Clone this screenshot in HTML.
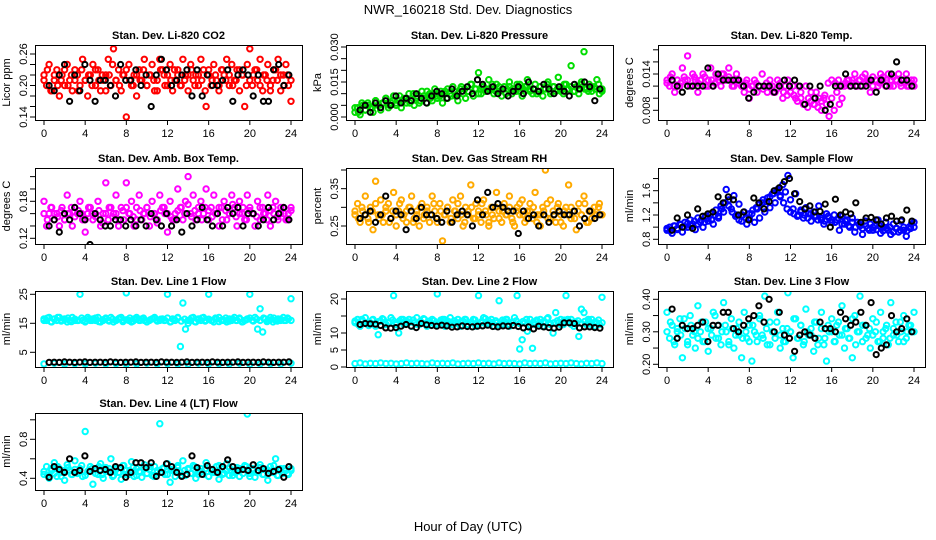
<!DOCTYPE html>
<html><head><meta charset="utf-8"><style>
body{margin:0;background:#fff;}
svg{display:block;font-family:"Liberation Sans",sans-serif;}
</style></head><body>
<svg id="c" width="936" height="540" viewBox="0 0 936 540">
<text x="468" y="14" font-size="13" text-anchor="middle">NWR_160218  Std. Dev. Diagnostics</text>
<text x="468" y="531" font-size="13" text-anchor="middle">Hour of Day (UTC)</text>
</svg>
<script>
const hourTicks=[0,4,8,12,16,20,24];
const p1Color=[0.22,0.20,0.24,0.19,0.21,0.23,0.18,0.22,0.20,0.24,0.21,0.19,0.23,0.22,0.20,0.25,0.21,0.18,0.22,0.24,0.20,0.23,0.19,0.21,0.22,0.25,0.20,0.27,0.21,0.23,0.19,0.22,0.14,0.24,0.20,0.22,0.18,0.23,0.21,0.25,0.20,0.22,0.24,0.19,0.21,0.25,0.23,0.20,0.22,0.24,0.19,0.21,0.23,0.20,0.25,0.22,0.19,0.24,0.21,0.22,0.20,0.25,0.23,0.16,0.22,0.20,0.24,0.21,0.19,0.23,0.22,0.25,0.20,0.24,0.21,0.23,0.19,0.22,0.16,0.24,0.27,0.20,0.23,0.21,0.25,0.19,0.22,0.24,0.20,0.21,0.23,0.25,0.19,0.22,0.24,0.20,0.17];
const p1Color2=[0.21,0.23,0.19,0.22,0.20,0.21,0.23,0.20,0.22,0.21,0.19,0.23,0.21,0.22,0.20,0.23,0.21,0.22,0.19,0.22,0.24,0.21,0.20,0.22,0.23,0.21,0.20,0.22,0.21,0.23,0.20,0.22,0.21,0.19,0.23,0.22,0.20,0.21,0.23,0.22,0.20,0.21,0.22,0.23,0.20,0.22,0.21,0.19,0.23,0.21,0.22,0.20,0.23,0.21,0.22,0.20,0.21,0.23,0.22,0.20,0.21,0.22,0.23,0.20,0.22,0.21,0.19,0.23,0.21,0.22,0.20,0.22,0.21];
const p1Black=[0.20,0.19,0.22,0.24,0.17,0.22,0.19,0.24,0.21,0.17,0.21,0.21,0.20,0.18,0.24,0.21,0.21,0.23,0.20,0.22,0.16,0.22,0.25,0.23,0.20,0.21,0.22,0.23,0.18,0.23,0.18,0.22,0.20,0.20,0.21,0.23,0.17,0.22,0.23,0.22,0.18,0.22,0.17,0.17,0.23,0.24,0.20,0.22];
const p2Color=[0.002,0.004,0.001,0.005,0.003,0.006,0.004,0.002,0.007,0.005,0.003,0.006,0.008,0.004,0.006,0.009,0.005,0.007,0.004,0.008,0.006,0.010,0.007,0.005,0.009,0.006,0.011,0.008,0.006,0.010,0.007,0.012,0.008,0.009,0.006,0.011,0.008,0.010,0.013,0.009,0.007,0.012,0.010,0.008,0.011,0.014,0.009,0.012,0.019,0.010,0.013,0.011,0.016,0.012,0.010,0.014,0.011,0.009,0.013,0.012,0.015,0.010,0.012,0.014,0.011,0.009,0.013,0.016,0.012,0.010,0.014,0.011,0.013,0.009,0.012,0.015,0.010,0.013,0.011,0.017,0.012,0.010,0.014,0.012,0.022,0.011,0.013,0.010,0.015,0.028,0.012,0.014,0.011,0.013,0.016,0.010,0.012];
const p2Color2=[0.004,0.002,0.006,0.003,0.005,0.004,0.007,0.005,0.006,0.008,0.005,0.007,0.006,0.009,0.007,0.008,0.006,0.010,0.008,0.007,0.009,0.011,0.008,0.010,0.009,0.011,0.010,0.012,0.009,0.011,0.010,0.013,0.012,0.011,0.014,0.012,0.010,0.013,0.011,0.012,0.014,0.011,0.013,0.012,0.010,0.013,0.012,0.011,0.014,0.012,0.013,0.011,0.012,0.010,0.013,0.012,0.014,0.011,0.013,0.012,0.011,0.014,0.012,0.013,0.011,0.012,0.014,0.012,0.011,0.013,0.012,0.014,0.011];
const p2Black=[0.003,0.005,0.002,0.006,0.004,0.007,0.005,0.009,0.006,0.008,0.007,0.010,0.008,0.006,0.009,0.011,0.010,0.008,0.012,0.009,0.011,0.013,0.010,0.016,0.014,0.011,0.013,0.010,0.012,0.009,0.011,0.013,0.010,0.015,0.012,0.011,0.014,0.012,0.010,0.013,0.011,0.009,0.014,0.012,0.015,0.013,0.007,0.012];
const p3Color=[0.013,0.012,0.014,0.011,0.013,0.012,0.015,0.013,0.017,0.012,0.014,0.013,0.011,0.013,0.014,0.012,0.013,0.015,0.012,0.014,0.013,0.012,0.014,0.013,0.015,0.013,0.012,0.014,0.013,0.012,0.011,0.013,0.010,0.012,0.013,0.011,0.012,0.014,0.012,0.011,0.013,0.012,0.011,0.013,0.012,0.010,0.012,0.013,0.011,0.012,0.010,0.012,0.011,0.009,0.012,0.010,0.011,0.009,0.011,0.010,0.008,0.010,0.009,0.007,0.010,0.008,0.011,0.009,0.010,0.012,0.013,0.012,0.013,0.014,0.012,0.013,0.012,0.014,0.013,0.011,0.012,0.013,0.012,0.014,0.013,0.012,0.014,0.013,0.012,0.013,0.014,0.012,0.013,0.014,0.012,0.013,0.012];
const p3Color2=[0.0125,0.0135,0.012,0.013,0.0125,0.0135,0.013,0.012,0.0135,0.0125,0.013,0.0135,0.012,0.013,0.0125,0.0135,0.014,0.013,0.0135,0.012,0.013,0.0125,0.012,0.0125,0.0115,0.012,0.0125,0.012,0.0115,0.0125,0.012,0.011,0.0115,0.0125,0.011,0.0105,0.011,0.0105,0.0095,0.010,0.009,0.0085,0.0095,0.009,0.0085,0.0095,0.0105,0.0125,0.013,0.0125,0.013,0.012,0.0125,0.013,0.0125,0.012,0.013,0.0135,0.0125,0.013,0.0135,0.013,0.0125,0.0135,0.013,0.012,0.0135,0.013,0.0125,0.013,0.012,0.0125,0.013];
const p3Black=[0.013,0.012,0.011,0.012,0.012,0.012,0.012,0.015,0.012,0.014,0.013,0.013,0.013,0.013,0.012,0.010,0.011,0.012,0.012,0.012,0.011,0.012,0.013,0.012,0.013,0.012,0.009,0.012,0.010,0.012,0.008,0.009,0.012,0.012,0.014,0.012,0.012,0.012,0.012,0.013,0.011,0.013,0.012,0.014,0.016,0.013,0.013,0.012];
const p4Color=[0.18,0.14,0.16,0.17,0.15,0.16,0.14,0.17,0.15,0.19,0.16,0.14,0.17,0.16,0.18,0.15,0.13,0.16,0.17,0.15,0.16,0.18,0.14,0.16,0.21,0.15,0.17,0.16,0.19,0.14,0.17,0.15,0.21,0.16,0.18,0.14,0.17,0.19,0.15,0.16,0.17,0.14,0.18,0.16,0.15,0.19,0.17,0.16,0.13,0.18,0.15,0.16,0.20,0.17,0.15,0.18,0.22,0.16,0.19,0.15,0.17,0.18,0.16,0.20,0.15,0.17,0.19,0.16,0.14,0.17,0.18,0.15,0.16,0.19,0.17,0.14,0.18,0.16,0.15,0.19,0.17,0.16,0.14,0.18,0.15,0.17,0.16,0.19,0.14,0.17,0.18,0.15,0.16,0.17,0.15,0.16,0.17];
const p4Color2=[0.16,0.15,0.17,0.16,0.155,0.165,0.15,0.16,0.17,0.155,0.165,0.16,0.15,0.17,0.16,0.155,0.165,0.145,0.16,0.17,0.155,0.16,0.15,0.165,0.17,0.16,0.155,0.15,0.165,0.16,0.17,0.155,0.16,0.145,0.165,0.17,0.16,0.155,0.15,0.165,0.17,0.16,0.175,0.155,0.165,0.16,0.15,0.17,0.165,0.155,0.16,0.17,0.15,0.165,0.16,0.175,0.155,0.16,0.17,0.15,0.165,0.16,0.155,0.17,0.16,0.15,0.165,0.16,0.155,0.17,0.16,0.15,0.165];
const p4Black=[0.14,0.15,0.13,0.16,0.15,0.17,0.16,0.15,0.11,0.16,0.15,0.14,0.14,0.15,0.15,0.14,0.15,0.14,0.15,0.14,0.16,0.15,0.14,0.16,0.14,0.15,0.13,0.16,0.14,0.15,0.17,0.15,0.14,0.16,0.14,0.17,0.16,0.17,0.14,0.16,0.16,0.14,0.15,0.17,0.15,0.16,0.17,0.15];
const p5Color=[0.28,0.31,0.26,0.29,0.33,0.27,0.30,0.24,0.37,0.28,0.32,0.26,0.29,0.31,0.27,0.34,0.25,0.29,0.32,0.28,0.26,0.30,0.33,0.27,0.29,0.25,0.31,0.28,0.30,0.26,0.33,0.29,0.27,0.31,0.21,0.28,0.30,0.26,0.32,0.29,0.27,0.33,0.25,0.30,0.28,0.36,0.27,0.31,0.29,0.26,0.32,0.28,0.25,0.30,0.27,0.34,0.29,0.26,0.31,0.28,0.33,0.27,0.25,0.30,0.28,0.32,0.26,0.29,0.31,0.27,0.34,0.28,0.25,0.30,0.40,0.27,0.32,0.29,0.26,0.31,0.28,0.25,0.30,0.36,0.27,0.29,0.24,0.31,0.28,0.33,0.26,0.29,0.27,0.30,0.28,0.31,0.28];
const p5Color2=[0.29,0.27,0.30,0.28,0.26,0.29,0.31,0.27,0.28,0.30,0.26,0.29,0.28,0.31,0.27,0.29,0.30,0.26,0.28,0.30,0.27,0.29,0.28,0.31,0.26,0.29,0.28,0.30,0.27,0.29,0.31,0.28,0.26,0.29,0.30,0.27,0.28,0.31,0.29,0.26,0.28,0.30,0.27,0.29,0.28,0.30,0.26,0.29,0.31,0.28,0.27,0.29,0.30,0.26,0.28,0.29,0.31,0.27,0.28,0.30,0.26,0.29,0.28,0.30,0.27,0.29,0.28,0.31,0.26,0.29,0.28,0.30,0.28];
const p5Black=[0.27,0.28,0.29,0.26,0.28,0.33,0.27,0.29,0.28,0.24,0.29,0.27,0.30,0.28,0.28,0.27,0.26,0.29,0.26,0.28,0.29,0.28,0.25,0.32,0.28,0.34,0.30,0.31,0.30,0.29,0.29,0.23,0.29,0.27,0.28,0.25,0.28,0.26,0.28,0.29,0.28,0.28,0.29,0.25,0.27,0.29,0.27,0.28];
const p6Color=[0.95,1.00,0.90,1.02,0.98,1.05,0.92,1.08,1.00,1.12,1.05,0.96,1.15,1.08,1.00,1.18,1.10,1.22,1.05,1.28,1.15,1.35,1.25,1.62,1.45,1.30,1.52,1.20,1.38,1.10,1.25,1.05,1.15,1.22,1.08,1.30,1.15,1.40,1.25,1.48,1.32,1.55,1.40,1.62,1.50,1.70,1.58,1.85,1.45,1.30,1.55,1.20,1.28,1.15,1.32,1.22,1.10,1.25,1.18,1.35,1.12,1.05,1.22,1.15,1.08,1.20,1.12,0.95,1.18,1.05,1.12,1.00,1.15,0.92,1.08,1.02,0.88,1.10,0.98,1.05,0.95,1.02,1.12,0.90,1.00,1.08,0.95,0.88,1.05,0.98,0.92,1.10,0.95,0.85,1.00,1.05,1.08];
const p6Color2=[0.98,0.94,1.02,0.96,1.04,1.00,1.06,1.02,1.10,1.05,1.12,1.08,1.15,1.12,1.20,1.18,1.30,1.40,1.35,1.25,1.18,1.12,1.20,1.15,1.22,1.28,1.32,1.38,1.45,1.42,1.50,1.55,1.60,1.52,1.40,1.30,1.25,1.22,1.18,1.25,1.20,1.15,1.22,1.18,1.12,1.15,1.10,1.18,1.12,1.08,1.15,1.05,1.10,1.02,1.08,1.00,1.05,0.98,1.02,0.95,1.00,0.96,1.02,0.94,0.98,1.00,0.92,0.98,0.95,1.00,0.94,0.98,1.00];
const p6Black=[0.95,1.15,1.0,1.2,0.98,1.3,1.18,1.22,1.25,1.5,1.4,1.5,1.45,1.2,1.25,1.12,1.48,1.4,1.3,1.42,1.6,1.65,1.75,1.8,1.55,1.42,1.3,1.35,1.25,1.26,1.38,1.0,1.46,1.2,1.25,1.22,1.4,1.08,1.15,1.16,1.12,1.05,1.15,1.18,1.1,1.12,1.28,1.1];
const p7Color=[16.5,16,17,15.5,16.5,16,17,16,16.5,15.5,16,17,16,16,25,16,15.5,17,16,16.5,16,17,15.5,16,16.5,16,17,15.5,16,16.5,17,16,25.5,16,15.5,16.5,17,16,16.5,16,15.5,16,16.5,17,16,16,16.5,16,25,15.5,16.5,16,17,7,22,13,15,16,17,15.5,16.5,16,17,16,25,16,15.5,16.5,17,16,16,15.5,16.5,16,17,16,16.5,15.5,16,16.5,25,16,17,13,20,12,16.5,16,17,15.5,16,16.5,16,17,16,16.5,23.5];
const p7Color2=[16,16.8,15.6,16.4,17,15.8,16.2,16.8,15.6,16.4,16,16.8,15.8,16.4,16,16.8,15.6,16.2,16.8,15.8,16.4,16,16.8,15.6,16.2,16.8,15.8,16.4,16,16.8,15.6,16.2,16.8,15.8,16.4,16,16.8,15.6,16.2,16.8,15.8,16.4,16,16.8,15.6,16.2,16.8,15.8,16.4,16,16.8,15.6,16.2,16.8,15.8,16.4,16,16.8,15.6,16.2,16.8,15.8,16.4,16,16.8,15.6,16.2,16.8,15.8,16.4,16,16.8,16];
const p7Low=[1,1.2,0.9,1.1,1,1.2,1,1.1,0.9,1,1.2,1,1.1,1,0.9,1.2,1,1.1,1,1.2,0.9,1,1.1,1,1.2];
const p7Black=[1.5,1.6,1.5,1.7,1.6,1.5,1.6,1.7,1.5,1.6,1.6,1.5,1.7,1.6,1.5,1.6,1.6,1.7,1.5,1.6,1.6,1.5,1.7,1.6,1.6,1.5,1.6,1.7,1.5,1.6,1.6,1.5,1.7,1.6,1.5,1.6,1.6,1.7,1.5,1.6,1.6,1.5,1.7,1.6,1.5,1.6,1.6,1.7];
const p8Color=[13,14,12,13.5,14.5,12.5,13,14,12,9.5,13.5,14,12.5,13,14.5,21,13,10,14,12.5,13.5,14,12,13,14.5,12.5,13,14,12,13.5,14,12.5,21.5,13,14,12,13.5,14.5,12.5,13,14,12,13.5,14,12.5,13,14,12,21,13,14.5,12.5,13.5,14,12,13,19.5,12.5,13.5,14,12,13,14.5,21,5.3,8,13,10.5,14,5.5,12.5,13.5,14,12,13,14.5,12.5,10,16,13,14,12.5,21,13.5,14,12,13,9,17,16,12.5,13.5,14,12,13,12.5,20.5];
const p8Color2=[13.5,12.5,14,13,12.2,13.8,12.8,13.4,14.2,12.6,13.2,13.8,12.4,13.6,14,12.8,13.2,13.8,12.6,13.4,14.2,12.8,13,13.6,12.4,13.8,14,12.6,13.2,13.6,12.8,13.4,14,12.4,13.2,13.8,12.6,13.4,14.2,12.8,13,13.6,12.4,13.8,14,12.6,13.2,13.6,12.8,13.4,14,12.4,13.2,13.8,12.6,13.4,14.2,12.8,13,13.6,12.4,13.8,14,12.6,13.2,13.6,12.8,13.4,14,12.4,13.2,13.8,13];
const p8Low=[1,1.2,0.9,1.1,1,1.2,1,1.1,0.9,1,1.2,1,1.1,1,0.9,1.2,1,1.1,1,1.2,0.9,1,1.1,1,1.2,1,1.1,0.9,1.2,1,1.1,1,0.9,1.2,1,1.1,1,1.2,0.9,1,1.1,1,1.2,1,0.9,1.1,1,1.2,1];
const p8Black=[12.5,12.8,12.7,12.6,12.2,11.5,11.4,11.6,12.0,12.5,12.0,11.6,12.8,12.4,12.2,12.0,12.3,12.1,11.7,11.8,12.1,11.9,11.8,12.0,12.1,12.3,11.9,11.8,12.1,12.0,12.2,11.9,11.5,11.8,11.2,12.0,11.8,11.6,11.4,11.7,13.0,13.0,12.8,11.5,11.8,11.8,11.6,11.4];
const p9Color=[0.36,0.28,0.32,0.26,0.30,0.34,0.22,0.31,0.27,0.35,0.29,0.25,0.38,0.30,0.27,0.33,0.24,0.31,0.36,0.28,0.32,0.26,0.39,0.30,0.27,0.34,0.25,0.31,0.29,0.22,0.36,0.28,0.32,0.21,0.30,0.27,0.35,0.29,0.41,0.26,0.33,0.30,0.28,0.36,0.25,0.31,0.27,0.42,0.30,0.22,0.34,0.28,0.32,0.26,0.37,0.29,0.31,0.24,0.33,0.28,0.36,0.26,0.21,0.30,0.34,0.27,0.32,0.29,0.38,0.25,0.31,0.28,0.22,0.35,0.30,0.41,0.27,0.32,0.29,0.25,0.34,0.30,0.27,0.36,0.28,0.31,0.26,0.39,0.29,0.33,0.27,0.30,0.35,0.28,0.32,0.30,0.36];
const p9Color2=[0.30,0.33,0.27,0.31,0.29,0.34,0.26,0.32,0.30,0.28,0.33,0.27,0.31,0.29,0.35,0.28,0.30,0.32,0.26,0.31,0.29,0.33,0.28,0.30,0.27,0.32,0.29,0.34,0.28,0.31,0.26,0.30,0.33,0.29,0.27,0.31,0.30,0.34,0.28,0.32,0.27,0.30,0.29,0.33,0.26,0.31,0.28,0.32,0.30,0.27,0.33,0.29,0.31,0.28,0.34,0.26,0.30,0.32,0.28,0.31,0.29,0.33,0.27,0.30,0.32,0.28,0.31,0.29,0.33,0.27,0.30,0.32,0.30];
const p9Black=[0.37,0.28,0.32,0.31,0.31,0.32,0.33,0.27,0.32,0.32,0.36,0.36,0.31,0.30,0.32,0.34,0.35,0.38,0.33,0.40,0.30,0.36,0.29,0.28,0.24,0.29,0.30,0.29,0.28,0.33,0.31,0.31,0.30,0.36,0.34,0.32,0.33,0.36,0.32,0.39,0.23,0.25,0.26,0.35,0.30,0.31,0.34,0.30];
const p10Color=[0.44,0.52,0.40,0.48,0.56,0.42,0.50,0.46,0.38,0.54,0.48,0.44,0.58,0.45,0.50,0.42,0.88,0.47,0.52,0.34,0.49,0.44,0.55,0.40,0.51,0.47,0.60,0.43,0.50,0.46,0.39,0.53,0.48,0.44,0.57,0.42,0.50,0.47,0.41,0.54,0.45,0.49,0.43,0.52,0.46,0.96,0.50,0.44,0.55,0.36,0.48,0.42,0.51,0.46,0.58,0.43,0.49,0.45,0.53,0.40,0.47,0.50,0.44,0.56,0.42,0.48,0.46,0.52,0.39,0.50,0.45,0.55,0.43,0.48,0.46,0.51,0.42,0.49,0.53,1.06,0.45,0.50,0.41,0.47,0.54,0.44,0.49,0.38,0.52,0.46,0.60,0.43,0.50,0.45,0.48,0.44,0.50];
const p10Color2=[0.47,0.43,0.50,0.45,0.52,0.42,0.48,0.51,0.44,0.49,0.46,0.53,0.43,0.48,0.50,0.45,0.52,0.44,0.47,0.50,0.42,0.49,0.46,0.53,0.44,0.48,0.51,0.43,0.47,0.50,0.45,0.52,0.42,0.48,0.46,0.51,0.44,0.49,0.47,0.53,0.43,0.48,0.50,0.45,0.52,0.44,0.47,0.50,0.42,0.49,0.46,0.53,0.44,0.48,0.51,0.43,0.47,0.50,0.45,0.52,0.42,0.48,0.46,0.51,0.44,0.49,0.47,0.53,0.43,0.48,0.50,0.45,0.48];
const p10Black=[0.41,0.52,0.49,0.46,0.60,0.46,0.48,0.63,0.47,0.50,0.48,0.49,0.46,0.52,0.51,0.41,0.46,0.56,0.56,0.51,0.56,0.42,0.46,0.55,0.52,0.46,0.42,0.44,0.63,0.51,0.44,0.53,0.49,0.46,0.52,0.59,0.52,0.48,0.49,0.48,0.54,0.48,0.50,0.45,0.47,0.49,0.41,0.52];

const NS="http://www.w3.org/2000/svg";
const svg=document.getElementById('c');
function mk(tag,attrs,parent){const e=document.createElementNS(NS,tag);for(const k in attrs)e.setAttribute(k,attrs[k]);(parent||svg).appendChild(e);return e;}

const panels=[
 {name:'li820-co2',title:'Stan. Dev. Li-820 CO2',ylab:'Licor ppm',L:35,T:45,B:120,cal:[0.14,117,0.26,54],ticks:[0.14,0.16,0.18,0.20,0.22,0.24,0.26],labels:['0.14','0.20','0.26'],col:'#ff0000',series:[p1Color,p1Color2],black:p1Black},
 {name:'li820-pressure',title:'Stan. Dev. Li-820 Pressure',ylab:'kPa',L:346,T:45,B:120,cal:[0,117,0.03,47],ticks:[0,0.005,0.01,0.015,0.02,0.025,0.03],labels:['0.000','0.015','0.030'],col:'#00dd00',series:[p2Color,p2Color2],black:p2Black},
 {name:'li820-temp',title:'Stan. Dev. Li-820 Temp.',ylab:'degrees C',L:658,T:45,B:120,cal:[0.008,110.3,0.014,74],ticks:[0.008,0.010,0.012,0.014,0.016,0.018],labels:['0.008','0.014'],col:'#ff00ff',series:[p3Color,p3Color2],black:p3Black},
 {name:'amb-box-temp',title:'Stan. Dev. Amb. Box Temp.',ylab:'degrees C',L:35,T:168,B:244,cal:[0.12,238.3,0.18,201.3],ticks:[0.12,0.14,0.16,0.18,0.20,0.22],labels:['0.12','0.18'],col:'#ff00ff',series:[p4Color,p4Color2],black:p4Black},
 {name:'gas-stream-rh',title:'Stan. Dev. Gas Stream RH',ylab:'percent',L:346,T:168,B:244,cal:[0.25,226,0.40,170],ticks:[0.25,0.30,0.35,0.40],labels:['0.25','0.35'],col:'#ffaa00',series:[p5Color,p5Color2],black:p5Black},
 {name:'sample-flow',title:'Stan. Dev. Sample Flow',ylab:'ml/min',L:658,T:168,B:244,cal:[0.8,239.3,1.6,190.7],ticks:[0.8,1.0,1.2,1.4,1.6,1.8],labels:['0.8','1.2','1.6'],col:'#0000ff',series:[p6Color,p6Color2],black:p6Black},
 {name:'line1-flow',title:'Stan. Dev. Line 1 Flow',ylab:'ml/min',L:35,T:291,B:367,cal:[5,352.3,25,294.3],ticks:[5,15,25],labels:['5','15','25'],col:'#00ffff',series:[p7Color,p7Color2,p7Low],black:p7Black},
 {name:'line2-flow',title:'Stan. Dev. Line 2 Flow',ylab:'ml/min',L:346,T:291,B:367,cal:[0,367,20,299],ticks:[0,5,10,15,20],labels:['0','5','10','20'],col:'#00ffff',series:[p8Color,p8Color2,p8Low],black:p8Black},
 {name:'line3-flow',title:'Stan. Dev. Line 3 Flow',ylab:'ml/min',L:658,T:291,B:367,cal:[0.2,364.3,0.4,299.3],ticks:[0.20,0.25,0.30,0.35,0.40],labels:['0.20','0.30','0.40'],col:'#00ffff',series:[p9Color,p9Color2],black:p9Black},
 {name:'line4-flow',title:'Stan. Dev. Line 4 (LT) Flow',ylab:'ml/min',L:35,T:413,B:490,cal:[0.4,478.3,0.8,439.3],ticks:[0.4,0.6,0.8,1.0],labels:['0.4','0.8'],col:'#00ffff',series:[p10Color,p10Color2],black:p10Black}
];

panels.forEach((p,pi)=>{
  const W=267, x0=p.L+9, x1=p.L+256;
  const xs=h=>x0+(x1-x0)*h/24;
  const ys=v=>p.cal[1]+(v-p.cal[0])*(p.cal[3]-p.cal[1])/(p.cal[2]-p.cal[0]);
  const g=mk('g',{});
  
  
  const cid='clip'+pi;
  const cp=mk('clipPath',{id:cid},g);mk('rect',{x:p.L,y:p.T,width:W,height:p.B-p.T},cp);
  const t=mk('text',{x:p.L+W/2,y:p.T-6,'font-size':11,'font-weight':'bold','text-anchor':'middle'},g);t.textContent=p.title;
  
  
  const yl=mk('text',{transform:`translate(${p.L-25},${(p.T+p.B)/2}) rotate(-90)`,'font-size':11,'text-anchor':'middle'},g);yl.textContent=p.ylab;
  
  
  const pts=mk('g',{'clip-path':`url(#${cid})`,fill:'none','stroke-width':2},g);
  
  
  p.series.forEach(arr=>{
    arr.forEach((v,i)=>{
      const c=mk('circle',{cx:xs(i*24/(arr.length-1)).toFixed(1),cy:ys(v).toFixed(1),r:2.7,stroke:p.col},pts);
      
      
    });
  });
  p.black.forEach((v,i)=>{
    const c=mk('circle',{cx:xs(0.5+i*23.3/(p.black.length-1)).toFixed(1),cy:ys(v).toFixed(1),r:2.6,stroke:'#000'},pts);
    
    
  });
  const box=mk('rect',{x:p.L+0.5,y:p.T+0.5,width:W,height:p.B-p.T,fill:'none',stroke:'#000','stroke-width':1},g);
  
  
  hourTicks.forEach(h=>{
    const x=xs(h);
    mk('line',{x1:x,x2:x,y1:p.B,y2:p.B+5,stroke:'#000'},g);
    const tl=mk('text',{x:x,y:p.B+17,'font-size':11,'text-anchor':'middle'},g);tl.textContent=h;
    
    
  });
  p.ticks.forEach(v=>{
    const y=ys(v);
    mk('line',{x1:p.L-5,x2:p.L,y1:y,y2:y,stroke:'#000'},g);
  });
  p.labels.forEach(s=>{
    const y=ys(parseFloat(s));
    const tl=mk('text',{transform:`translate(${p.L-8},${y}) rotate(-90)`,'font-size':11,'text-anchor':'middle'},g);tl.textContent=s;
    
    
  });
});
</script>
</body></html>
